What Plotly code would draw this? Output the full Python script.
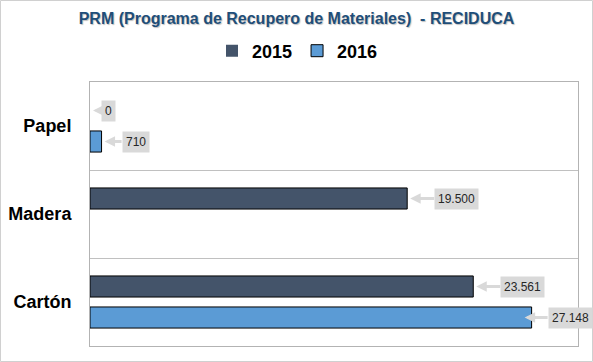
import plotly.graph_objects as go

categories = ["Papel", "Madera", "Cartón"]
series_names = ["2015", "2016"]
values_2015 = [0, 19500, 23561]
values_2016 = [710, None, 27148]

colors = {"2015": "#44546a", "2016": "#5b9bd5"}

# label placement tweaks (pixel offsets), keyed by (series, category)
label_ax = {("2015", "Papel"): 11, ("2016", "Papel"): 20, ("2015", "Madera"): 27,
            ("2015", "Cartón"): 27, ("2016", "Cartón"): 23}
label_xshift = {("2016", "Cartón"): -7}
label_yshift = {"2015": 15.5, "2016": -15.5}

W, H = 593, 362
L, R, T, B = 90, 15, 82, 16
pw, ph = W - L - R, H - T - B

fig = go.Figure()
for name, vals in zip(series_names, [values_2015, values_2016]):
    fig.add_trace(go.Bar(
        y=categories, x=vals, name=name, orientation="h",
        marker=dict(color=colors[name],
                    line=dict(color="black", width=[0 if not v else 1 for v in vals])),
        hoverinfo="skip",
    ))

def fmt(v):
    return f"{v:,}".replace(",", ".")

annotations = []
for name, vals in zip(series_names, [values_2015, values_2016]):
    for cat, v in zip(categories, vals):
        if v is None:
            continue
        key = (name, cat)
        annotations.append(dict(
            x=v, y=cat, xref="x", yref="y",
            text=fmt(v), showarrow=True,
            ax=label_ax.get(key, 24), ay=0,
            xanchor="left", yanchor="middle",
            xshift=label_xshift.get(key, 0), yshift=label_yshift[name],
            standoff=0 if key in label_xshift else 3,
            arrowcolor="#d9d9d9", arrowwidth=3, arrowhead=2, arrowsize=0.7,
            bgcolor="#d9d9d9", borderpad=3,
            font=dict(family="Liberation Sans, Arial", size=12, color="#262626"),
        ))

fig.update_layout(
    width=W, height=H,
    margin=dict(l=L, r=R, t=T, b=B, autoexpand=False),
    paper_bgcolor="white", plot_bgcolor="white",
    barmode="group", bargap=0.295, bargroupgap=0.32,
    title=dict(text="PRM (Programa de Recupero de Materiales)  - RECIDUCA",
               x=0.5, xref="container", xanchor="center",
               y=1 - 18 / H, yref="container", yanchor="middle",
               font=dict(family="Liberation Sans, Arial", size=16, color="#1f4e79", weight="bold",
                         shadow="1px 1px 1px rgba(0,0,0,0.25)")),
    legend=dict(orientation="h", x=(212 - L) / pw, xanchor="left",
                y=1 + (T - 51) / ph, yanchor="middle",
                font=dict(family="Liberation Sans, Arial", size=18, color="black", weight="bold"),
                itemclick=False, itemdoubleclick=False, traceorder="normal"),
    xaxis=dict(range=[0, 30000], showticklabels=False, showgrid=False, zeroline=False,
               showline=True, mirror=True, linecolor="#b3b3b3", linewidth=1, ticks=""),
    yaxis=dict(autorange="reversed", type="category", tickson="boundaries",
               showgrid=True, gridcolor="#c0c0c0", gridwidth=1,
               showline=True, mirror=True, linecolor="#b3b3b3", linewidth=1, ticks="",
               ticklabelstandoff=14,
               tickfont=dict(family="Liberation Sans, Arial", size=18, color="black", weight="bold")),
    annotations=annotations,
    font=dict(family="Liberation Sans, Arial"),
    shapes=[dict(type="rect", xref="paper", yref="paper",
                 x0=(0.5 - L) / pw, x1=(W - 0.5 - L) / pw,
                 y0=(H - B - (H - 0.5)) / ph, y1=(H - B - 0.5) / ph,
                 line=dict(color="#d0d0d0", width=1), layer="above")],
)

fig.write_html("out.html", config={"displayModeBar": False},
               post_script="document.body.style.margin='0';document.body.style.overflow='hidden';")
